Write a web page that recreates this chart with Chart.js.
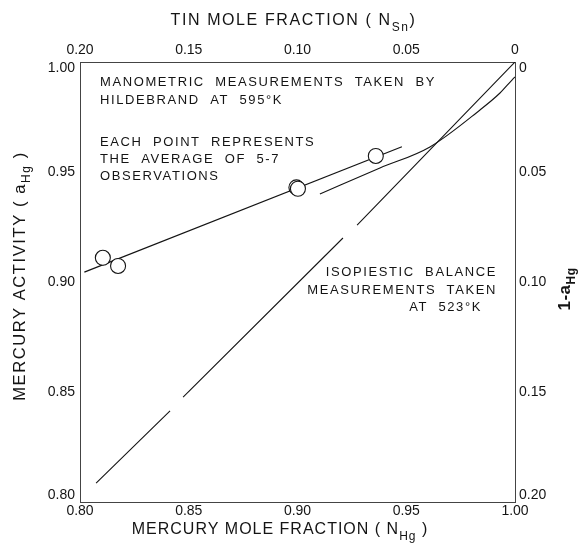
<!DOCTYPE html>
<html>
<head>
<meta charset="utf-8">
<script src="https://cdn.jsdelivr.net/npm/chart.js@4/dist/chart.umd.min.js"></script>
<style>
  html, body { margin: 0; padding: 0; background: #fff; }
  #wrap { width: 578px; height: 545px; }
</style>
</head>
<body>
<div id="wrap"><canvas id="c" width="578" height="545"></canvas></div>
<script>
// Tick values for both axis pairs (N_Hg / N_Sn and a_Hg / 1 - a_Hg)
const xTicks = [0.80, 0.85, 0.90, 0.95, 1.00];
const yTicks = [0.80, 0.85, 0.90, 0.95, 1.00];

// Manometric measurements (Hildebrand, 595 K): mercury mole fraction and activity
const manoN = [0.8105, 0.8175, 0.8995, 0.9002, 0.9360];
const manoA = [0.9110, 0.9073, 0.9430, 0.9424, 0.9573];

// Line drawn through the manometric points
const manoFitN = [0.802, 0.948];
const manoFitA = [0.9045, 0.9615];

// Curve starting near N_Hg = 0.91 and bending up toward pure mercury
const curveN = [0.9103, 0.9379, 0.9609, 0.9839, 0.9931, 0.9986, 1.000];
const curveA = [0.9400, 0.9518, 0.9614, 0.9782, 0.9859, 0.9918, 0.9932];

// Isopiestic balance measurements (523 K), drawn as broken segments; null marks a break
const isoN = [0.8074, 0.8414, 0.8440, 0.8474, 0.9209, 0.9240, 0.9274, 1.000];
const isoA = [0.8086, 0.8414, null,   0.8477, 0.9200, null,   0.9259, 1.000];

const pts = (xs, ys) => xs.map((x, i) => ({ x: x, y: ys[i] }));

const FONT = '"Liberation Sans", Arial, sans-serif';
const INK = '#141414';

function fmt(v) { return v === 0 ? '0' : v.toFixed(2); }

// Draws a string made of normal and subscript pieces
function drawRich(ctx, parts, size, x, y, align, weight) {
  ctx.save();
  const w0 = weight ? weight + ' ' : '';
  let total = 0;
  const widths = parts.map(p => {
    ctx.font = w0 + (p.sub ? Math.round(size * 0.72) : size) + 'px ' + FONT;
    const w = ctx.measureText(p.t).width;
    total += w;
    return w;
  });
  let cx = align === 'center' ? x - total / 2 : (align === 'right' ? x - total : x);
  ctx.textBaseline = 'middle';
  ctx.textAlign = 'left';
  parts.forEach((p, i) => {
    ctx.font = w0 + (p.sub ? Math.round(size * 0.72) : size) + 'px ' + FONT;
    ctx.fillText(p.t, cx, p.sub ? y + size * 0.42 : y);
    cx += widths[i];
  });
  ctx.restore();
}

// Nudges the end labels of the vertical axes inward, away from the corners
const endLabels = {
  id: 'endLabels',
  beforeDraw(chart) {
    ['y', 'y2'].forEach(id => {
      const items = chart.scales[id].getLabelItems();
      if (items.length) {
        items[0].options.translation[1] -= 7;
        items[items.length - 1].options.translation[1] += 6;
      }
    });
  }
};

const textPlugin = {
  id: 'labels',
  afterDraw(chart) {
    const ctx = chart.ctx;
    const a = chart.chartArea;
    ctx.save();
    ctx.fillStyle = INK;

    // axis titles
    ctx.letterSpacing = '1.6px';
    drawRich(ctx, [{ t: 'TIN MOLE FRACTION ( N' }, { t: 'Sn', sub: true }, { t: ')' }], 16,
      (a.left + a.right) / 2 - 4, 21, 'center');
    ctx.letterSpacing = '1px';
    drawRich(ctx, [{ t: 'MERCURY MOLE FRACTION ( N' }, { t: 'Hg', sub: true }, { t: ' )' }], 16,
      280, 530, 'center');

    ctx.save();
    ctx.letterSpacing = '1.6px';
    ctx.translate(20, 276);
    ctx.rotate(-Math.PI / 2);
    drawRich(ctx, [{ t: 'MERCURY ACTIVITY ( a' }, { t: 'Hg', sub: true }, { t: ' )' }], 16.5, 0, 0, 'center');
    ctx.restore();

    ctx.save();
    ctx.translate(565, 289);
    ctx.rotate(-Math.PI / 2);
    ctx.letterSpacing = '0.5px';
    drawRich(ctx, [{ t: '1-a' }, { t: 'Hg', sub: true }], 17, 0, 0, 'center', 'bold');
    ctx.restore();

    // notes inside the plot
    ctx.letterSpacing = '1.6px';
    ctx.font = '13px ' + FONT;
    ctx.textBaseline = 'middle';
    ctx.textAlign = 'left';
    const L = a.left + 20;
    ctx.fillText('MANOMETRIC  MEASUREMENTS  TAKEN  BY', L, 82);
    ctx.fillText('HILDEBRAND  AT  595°K', L, 100);
    ctx.fillText('EACH  POINT  REPRESENTS', L, 142);
    ctx.fillText('THE  AVERAGE  OF  5-7', L, 159);
    ctx.fillText('OBSERVATIONS', L, 176);

    ctx.textAlign = 'right';
    ctx.fillText('ISOPIESTIC  BALANCE', 497, 272);
    ctx.fillText('MEASUREMENTS  TAKEN', 497, 290);
    ctx.fillText('AT  523°K', 482, 307);
    ctx.restore();
  }
};

const tickFont = { family: FONT, size: 14 };
const border = { display: true, color: '#444', width: 1, dash: [9, 2, 3, 2] };

function axis(position, extra) {
  return Object.assign({
    type: 'linear',
    position: position,
    min: 0.80,
    max: 1.00,
    grid: { display: false, drawTicks: false },
    border: border,
    ticks: { font: tickFont, color: INK, padding: 4, callback: v => fmt(v) }
  }, extra);
}

new Chart(document.getElementById('c'), {
  type: 'scatter',
  data: {
    datasets: [
      {
        type: 'line', data: pts(isoN, isoA), borderColor: INK, borderWidth: 1.1,
        pointRadius: 0, spanGaps: false, xAxisID: 'x', yAxisID: 'y', order: 4
      },
      {
        type: 'line', data: pts(manoFitN, manoFitA), borderColor: INK, borderWidth: 1.2,
        pointRadius: 0, xAxisID: 'x', yAxisID: 'y', order: 3
      },
      {
        type: 'line', data: pts(curveN, curveA), borderColor: INK, borderWidth: 1.1,
        pointRadius: 0, cubicInterpolationMode: 'monotone', xAxisID: 'x', yAxisID: 'y', order: 2
      },
      {
        type: 'scatter', data: pts(manoN, manoA), pointRadius: 7.5, pointStyle: 'circle',
        pointBackgroundColor: '#fff', pointBorderColor: INK, pointBorderWidth: 1.1,
        xAxisID: 'x', yAxisID: 'y', order: 1
      }
    ]
  },
  options: {
    responsive: false,
    animation: false,
    events: [],
    layout: { padding: 0 },
    plugins: { legend: { display: false }, tooltip: { enabled: false } },
    scales: {
      x: axis('bottom', {
        afterBuildTicks: s => { s.ticks = xTicks.map(v => ({ value: v })); },
        afterFit: s => { s.height = 43; },
        ticks: { font: tickFont, color: INK, padding: 1, maxRotation: 0, callback: v => fmt(v) }
      }),
      x2: axis('top', {
        afterBuildTicks: s => { s.ticks = xTicks.map(v => ({ value: v })); },
        afterFit: s => { s.height = 62; },
        ticks: { font: tickFont, color: INK, padding: 3, maxRotation: 0, callback: v => fmt(Math.round((1 - v) * 100) / 100) }
      }),
      y: axis('left', {
        afterBuildTicks: s => { s.ticks = yTicks.map(v => ({ value: v })); },
        afterFit: s => { s.width = 80; },
        ticks: { font: tickFont, color: INK, padding: 5, callback: v => fmt(v) }
      }),
      y2: axis('right', {
        afterBuildTicks: s => { s.ticks = yTicks.map(v => ({ value: v })); },
        afterFit: s => { s.width = 63; },
        ticks: { font: tickFont, color: INK, padding: 4, callback: v => fmt(Math.round((1 - v) * 100) / 100) }
      })
    }
  },
  plugins: [endLabels, textPlugin]
});
</script>
</body>
</html>
